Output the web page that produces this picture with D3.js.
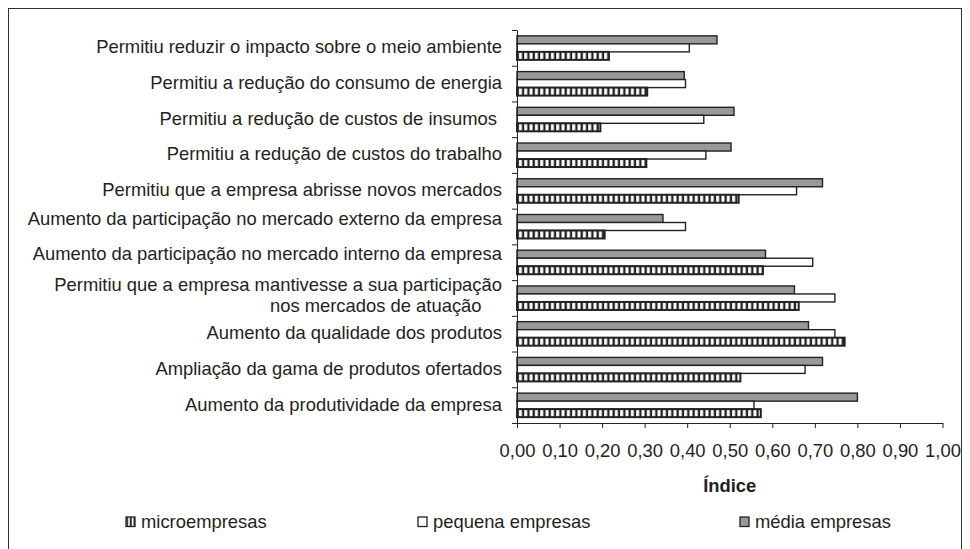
<!DOCTYPE html>
<html>
<head>
<meta charset="utf-8">
<script src="https://cdn.jsdelivr.net/npm/d3@7"></script>
<style>
  html, body { margin: 0; padding: 0; background: #fff; }
  svg { display: block; font-family: "Liberation Sans", Arial, sans-serif; }
</style>
</head>
<body>
<script>
// ---------- DATA ----------
const categories = [
  "Permitiu reduzir o impacto sobre o meio ambiente",
  "Permitiu a redução do consumo de energia",
  "Permitiu a redução de custos de insumos ",
  "Permitiu a redução de custos do trabalho",
  "Permitiu que a empresa abrisse novos mercados",
  "Aumento da participação no mercado externo da empresa\n",
  "Aumento da participação no mercado interno da empresa\n",
  "Permitiu que a empresa mantivesse a sua participação\nnos mercados de atuação    ",
  "Aumento da qualidade dos produtos",
  "Ampliação da gama de produtos ofertados",
  "Aumento da produtividade da empresa"
];
const seriesNames = ["microempresas", "pequena empresas", "média empresas"];
const microValues   = [0.216, 0.306, 0.196, 0.304, 0.521, 0.206, 0.578, 0.662, 0.770, 0.525, 0.573];
const pequenaValues = [0.405, 0.396, 0.439, 0.444, 0.657, 0.396, 0.695, 0.747, 0.747, 0.677, 0.557];
const mediaValues   = [0.470, 0.393, 0.510, 0.503, 0.718, 0.343, 0.584, 0.652, 0.685, 0.718, 0.800];
const xTicks = [0, 0.1, 0.2, 0.3, 0.4, 0.5, 0.6, 0.7, 0.8, 0.9, 1.0];
const axisTitle = "Índice";

// ---------- LAYOUT ----------
const W = 970, H = 549;
const FS = 18.4;
const TXT = "#231f20";
const svg = d3.select("body").append("svg").attr("width", W).attr("height", H);

const defs = svg.append("defs");
const pat = defs.append("pattern").attr("id", "hatch")
  .attr("patternUnits", "userSpaceOnUse").attr("width", 5.33).attr("height", 4);
pat.append("rect").attr("width", 5.33).attr("height", 4).attr("fill", "#222");
pat.append("rect").attr("x", 1.9).attr("width", 3.0).attr("height", 4).attr("fill", "#fff");

const patL = defs.append("pattern").attr("id", "hatchLegend")
  .attr("patternUnits", "userSpaceOnUse").attr("width", 3.6).attr("height", 4)
  .attr("x", 126.5);
patL.append("rect").attr("width", 3.6).attr("height", 4).attr("fill", "#222");
patL.append("rect").attr("x", 1.6).attr("width", 1.8).attr("height", 4).attr("fill", "#fff");

// frame
svg.append("rect").attr("x", 8.5).attr("y", 8.5).attr("width", 953).attr("height", 600)
  .attr("fill", "none").attr("stroke", "#333").attr("stroke-width", 1);

const n = categories.length;
const x = d3.scaleLinear().domain([0, 1]).range([517, 942.5]);
const y0 = d3.scaleBand().domain(d3.range(n)).range([30, 423]);
const seriesKeys = ["media", "pequena", "micro"];
const y1 = d3.scaleBand().domain(seriesKeys).range([0, y0.bandwidth()]).paddingInner(0).paddingOuter(0.733);

const rows = categories.map((c, i) => ({
  i, micro: microValues[i], pequena: pequenaValues[i], media: mediaValues[i]
}));
const styles = {
  media:   { fill: "#999999", sw: 1.4 },
  pequena: { fill: "#ffffff", sw: 1.4 },
  micro:   { fill: "url(#hatch)", sw: 2 }
};

// bars
const gBars = svg.append("g");
rows.forEach(r => {
  seriesKeys.forEach(k => {
    const st = styles[k];
    gBars.append("rect")
      .attr("x", x(0))
      .attr("y", y0(r.i) + y1(k))
      .attr("width", x(r[k]) - x(0))
      .attr("height", y1.bandwidth())
      .attr("fill", st.fill)
      .attr("stroke", "#222")
      .attr("stroke-width", st.sw);
  });
});

// y axis (ticks at category boundaries)
const yl = d3.scaleLinear().domain([0, n]).range([30, 423]);
const gy = svg.append("g").attr("transform", `translate(${x(0)},0)`)
  .call(d3.axisLeft(yl).tickValues(d3.range(n + 1)).tickFormat("").tickSize(5).tickSizeOuter(0));
gy.selectAll("path,line").attr("stroke", "#222").attr("stroke-width", 1);

// x axis
const gx = svg.append("g").attr("transform", "translate(0,423)")
  .call(d3.axisBottom(x).tickValues(xTicks)
    .tickFormat(d => d.toFixed(2).replace(".", ","))
    .tickSize(5).tickSizeOuter(0).tickPadding(16));
gx.selectAll("path,line").attr("stroke", "#222").attr("stroke-width", 1);
gx.selectAll("text").attr("font-size", FS).attr("fill", TXT)
  .attr("font-family", "'Liberation Sans', Arial, sans-serif");

// category labels (one text element per category, tspans per line)
const lineH = 21;     // height of a text line
const blankH = 8;     // height of an empty trailing line
categories.forEach((c, i) => {
  const lines = c.split("\n");
  const hs = lines.map(l => l.trim() === "" ? blankH : lineH);
  const total = d3.sum(hs) - hs[0] / 2 - hs[hs.length - 1] / 2;
  const cy = y0(i) + y0.bandwidth() / 2 - (lines.length > 1 && lines[1].trim() !== "" ? 2.5 : 1);
  let yy = cy - total / 2;
  const t = svg.append("text")
    .attr("text-anchor", "end")
    .attr("font-size", FS)
    .attr("fill", TXT)
    .style("white-space", "pre");
  lines.forEach((ln, j) => {
    if (j > 0) yy += (hs[j - 1] + hs[j]) / 2;
    if (ln.trim() === "") return;
    t.append("tspan").attr("x", 502).attr("y", yy).attr("dy", "0.35em").text(ln);
  });
});

// axis title
svg.append("text").attr("x", (x(0) + x(1)) / 2).attr("y", 486).attr("dy", "0.35em")
  .attr("text-anchor", "middle").attr("font-size", FS).attr("font-weight", "bold")
  .attr("fill", TXT).text(axisTitle);

// legend
const legendX = [126, 418, 740];
const legendFill = ["url(#hatchLegend)", "#ffffff", "#999999"];
seriesNames.forEach((s, i) => {
  svg.append("rect").attr("x", legendX[i]).attr("y", 517).attr("width", 9).attr("height", 9.5)
    .attr("fill", legendFill[i]).attr("stroke", "#222").attr("stroke-width", 1.3);
  svg.append("text").attr("x", legendX[i] + 15).attr("y", 521.5).attr("dy", "0.35em")
    .attr("font-size", FS).attr("fill", TXT).text(s);
});
</script>
</body>
</html>
